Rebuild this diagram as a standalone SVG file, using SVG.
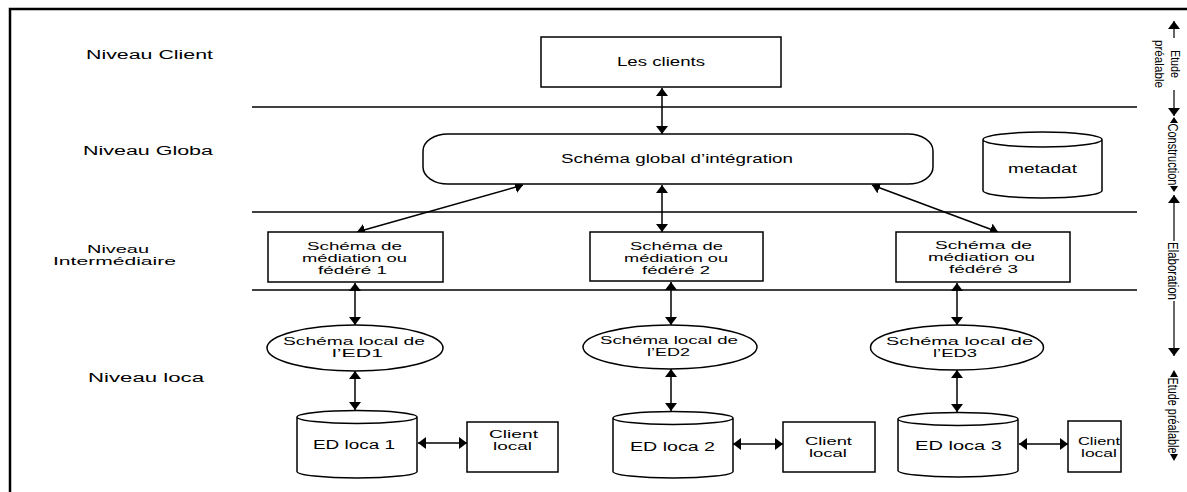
<svg xmlns="http://www.w3.org/2000/svg" width="1187" height="492" viewBox="0 0 1187 492">
<style>
  text { font-family: "Liberation Sans", Arial, sans-serif; font-size: 12px; fill: #000; }
  .sm { font-size: 10.5px; }
  .box { fill: #fff; stroke: #000; stroke-width: 1.5; }
  .sep { stroke: #000; stroke-width: 1.6; fill: none; }
  .frame { stroke: #000; stroke-width: 2.5; fill: none; }
  .con { stroke: #000; stroke-width: 1.5; fill: none; marker-start: url(#ah); marker-end: url(#ah); }
  .one { stroke: #000; stroke-width: 1.2; fill: none; }
  .side { font-size: 15px; }
</style>
<defs>
  <marker id="ah" viewBox="0 0 8 12" refX="8" refY="6" markerWidth="8" markerHeight="12" markerUnits="userSpaceOnUse" orient="auto-start-reverse">
    <path d="M0,0 L8,6 L0,12 z" fill="#000"/>
  </marker>
</defs>
<rect width="1187" height="492" fill="#fff"/>

<g id="frame">
  <path class="frame" d="M10,492 V9 H1187"/>
  <line class="sep" x1="252" y1="107" x2="1137" y2="107"/>
  <line class="sep" x1="252" y1="212" x2="1137" y2="212"/>
  <line class="sep" x1="252" y1="290" x2="1137" y2="290"/>
</g>

<g id="level-labels">
  <text x="86" y="59" textLength="127" lengthAdjust="spacingAndGlyphs">Niveau Client</text>
  <text x="83" y="155" textLength="130" lengthAdjust="spacingAndGlyphs">Niveau Globa</text>
  <text class="sm" x="87" y="253" textLength="62" lengthAdjust="spacingAndGlyphs">Niveau</text>
  <text class="sm" x="53" y="265" textLength="123" lengthAdjust="spacingAndGlyphs">Intermédiaire</text>
  <text x="88" y="382" textLength="116" lengthAdjust="spacingAndGlyphs">Niveau loca</text>
</g>

<g id="connectors">
  <line class="con" x1="662" y1="88" x2="662" y2="134"/>
  <line class="con" x1="662" y1="185" x2="662" y2="232"/>
  <line class="con" x1="357" y1="232" x2="523" y2="185"/>
  <line class="con" x1="998" y1="232" x2="872" y2="185"/>
  <line class="con" x1="355" y1="283" x2="355" y2="325"/>
  <line class="con" x1="671" y1="282" x2="671" y2="325"/>
  <line class="con" x1="957" y1="283" x2="957" y2="325"/>
  <line class="con" x1="355" y1="371" x2="355" y2="410"/>
  <line class="con" x1="671" y1="369" x2="671" y2="411"/>
  <line class="con" x1="957" y1="370" x2="957" y2="412"/>
  <line class="con" x1="418" y1="443" x2="467" y2="443"/>
  <line class="con" x1="733" y1="444" x2="783" y2="444"/>
  <line class="con" x1="1019" y1="444" x2="1068" y2="444"/>
</g>

<g id="clients">
  <rect class="box" x="541" y="37" width="240" height="50"/>
  <text x="617" y="66" textLength="88" lengthAdjust="spacingAndGlyphs">Les clients</text>
</g>

<g id="global-schema">
  <rect class="box" x="423" y="134" width="510" height="50" rx="25" ry="17"/>
  <text x="561" y="163" textLength="232" lengthAdjust="spacingAndGlyphs">Schéma global d’intégration</text>
</g>

<g id="metadata">
  <path class="box" d="M983,139.5 A59.5,7.5 0 0 1 1102,139.5 A59.5,7.5 0 0 1 983,139.5 V190.5 A59.5,7.5 0 0 0 1102,190.5 V139.5"/>
  <text x="1008" y="173" textLength="69" lengthAdjust="spacingAndGlyphs">metadat</text>
</g>

<g id="mediation-1">
  <rect class="box" x="268" y="232" width="175" height="50"/>
  <text class="sm" x="307" y="250" textLength="95" lengthAdjust="spacingAndGlyphs">Schéma de</text>
  <text class="sm" x="302" y="262" textLength="105" lengthAdjust="spacingAndGlyphs">médiation ou</text>
  <text class="sm" x="318" y="274" textLength="69" lengthAdjust="spacingAndGlyphs">fédéré 1</text>
</g>
<g id="mediation-2">
  <rect class="box" x="590" y="232" width="173" height="49"/>
  <text class="sm" x="630" y="250" textLength="93" lengthAdjust="spacingAndGlyphs">Schéma de</text>
  <text class="sm" x="624" y="262" textLength="104" lengthAdjust="spacingAndGlyphs">médiation ou</text>
  <text class="sm" x="642" y="274" textLength="68" lengthAdjust="spacingAndGlyphs">fédéré 2</text>
</g>
<g id="mediation-3">
  <rect class="box" x="896" y="232" width="174" height="50"/>
  <text class="sm" x="935" y="249" textLength="97" lengthAdjust="spacingAndGlyphs">Schéma de</text>
  <text class="sm" x="928" y="261" textLength="107" lengthAdjust="spacingAndGlyphs">médiation ou</text>
  <text class="sm" x="949" y="273" textLength="69" lengthAdjust="spacingAndGlyphs">fédéré 3</text>
</g>

<g id="local-schema-1">
  <ellipse class="box" cx="355" cy="348" rx="88" ry="23"/>
  <text class="sm" x="283" y="345" textLength="142" lengthAdjust="spacingAndGlyphs">Schéma local de</text>
  <text class="sm" x="332" y="357" textLength="51" lengthAdjust="spacingAndGlyphs">l’ED1</text>
</g>
<g id="local-schema-2">
  <ellipse class="box" cx="670" cy="347" rx="87" ry="22"/>
  <text class="sm" x="600" y="344" textLength="138" lengthAdjust="spacingAndGlyphs">Schéma local de</text>
  <text class="sm" x="647" y="356" textLength="43" lengthAdjust="spacingAndGlyphs">l’ED2</text>
</g>
<g id="local-schema-3">
  <ellipse class="box" cx="957" cy="347.5" rx="86.5" ry="22.5"/>
  <text class="sm" x="886" y="345" textLength="147" lengthAdjust="spacingAndGlyphs">Schéma local de</text>
  <text class="sm" x="933" y="357" textLength="44" lengthAdjust="spacingAndGlyphs">l’ED3</text>
</g>

<g id="local-ed-1">
  <path class="box" d="M297,417 A60,6.5 0 0 1 417,417 A60,6.5 0 0 1 297,417 V471.5 A60,6.5 0 0 0 417,471.5 V417"/>
  <text x="313" y="449" textLength="82" lengthAdjust="spacingAndGlyphs">ED loca 1</text>
</g>
<g id="local-ed-2">
  <path class="box" d="M613,418 A60,6.5 0 0 1 733,418 A60,6.5 0 0 1 613,418 V471.5 A60,6.5 0 0 0 733,471.5 V418"/>
  <text x="630" y="451" textLength="85" lengthAdjust="spacingAndGlyphs">ED loca 2</text>
</g>
<g id="local-ed-3">
  <path class="box" d="M898,419 A60,6.5 0 0 1 1018,419 A60,6.5 0 0 1 898,419 V470.5 A60,6.5 0 0 0 1018,470.5 V419"/>
  <text x="915" y="450" textLength="87" lengthAdjust="spacingAndGlyphs">ED loca 3</text>
</g>

<g id="client-local-1">
  <rect class="box" x="467" y="422" width="91" height="50"/>
  <text class="sm" x="489" y="438" textLength="49" lengthAdjust="spacingAndGlyphs">Client</text>
  <text class="sm" x="493" y="450" textLength="39" lengthAdjust="spacingAndGlyphs">local</text>
</g>
<g id="client-local-2">
  <rect class="box" x="783" y="422" width="92" height="50"/>
  <text class="sm" x="805" y="445" textLength="47" lengthAdjust="spacingAndGlyphs">Client</text>
  <text class="sm" x="809" y="457" textLength="38" lengthAdjust="spacingAndGlyphs">local</text>
</g>
<g id="client-local-3">
  <rect class="box" x="1068" y="421" width="53" height="51"/>
  <text class="sm" x="1078" y="445" textLength="42" lengthAdjust="spacingAndGlyphs">Client</text>
  <text class="sm" x="1081" y="457" textLength="36" lengthAdjust="spacingAndGlyphs">local</text>
</g>

<g id="phases">
  <line class="one" x1="1174" y1="21" x2="1174" y2="38" marker-start="url(#ah)"/>
  <line class="one" x1="1174" y1="90" x2="1174" y2="116" marker-end="url(#ah)"/>
  <text font-size="13" transform="translate(1171,64) rotate(90)" text-anchor="middle" textLength="28" lengthAdjust="spacingAndGlyphs">Etude</text>
  <text font-size="13" transform="translate(1155,64) rotate(90)" text-anchor="middle" textLength="48" lengthAdjust="spacingAndGlyphs">préalable</text>

  <path d="M1174,117 L1178,123 L1170,123 z M1174,192 L1178,186 L1170,186 z" fill="#000"/>
  <text class="side" transform="translate(1168,154.5) rotate(90)" text-anchor="middle" textLength="62" lengthAdjust="spacingAndGlyphs">Construction</text>

  <line class="one" x1="1174" y1="195" x2="1174" y2="241" marker-start="url(#ah)"/>
  <line class="one" x1="1174" y1="301" x2="1174" y2="356" marker-end="url(#ah)"/>
  <text class="side" transform="translate(1168,271) rotate(90)" text-anchor="middle" textLength="58" lengthAdjust="spacingAndGlyphs">Elaboration</text>

  <path d="M1174,370 L1178,377 L1170,377 z M1174,461 L1178,454 L1170,454 z" fill="#000"/>
  <text class="side" transform="translate(1168,415.5) rotate(90)" text-anchor="middle" textLength="76" lengthAdjust="spacingAndGlyphs">Etude préalable</text>
</g>
</svg>
